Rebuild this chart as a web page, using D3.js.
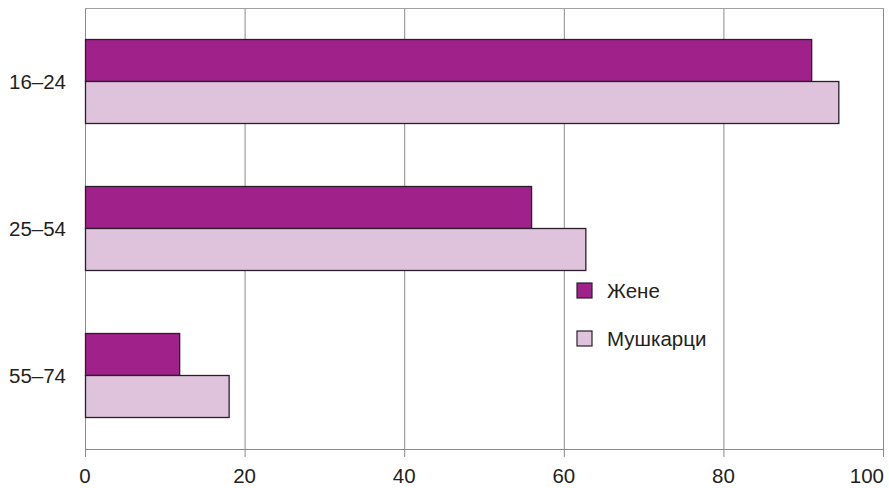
<!DOCTYPE html>
<html><head><meta charset="utf-8">
<script src="https://cdn.jsdelivr.net/npm/d3@7"></script>
<style>body{margin:0;background:#fff}text{font-family:"Liberation Sans",Arial,sans-serif;fill:#231f20}</style>
</head><body><svg id="c" width="889" height="488"></svg>
<script>
const categories = ["16–24", "25–54", "55–74"];
const seriesNames = ["Жене", "Мушкарци"];
const zene = [91.0, 55.9, 11.8];
const muskarci = [94.4, 62.7, 18.0];
const xTicks = [0, 20, 40, 60, 80, 100];
const colors = ["#a0218a", "#dfc3dc"];

const svg = d3.select("#c");
const L = 85, R = 883, T = 8, B = 449;
const x = d3.scaleLinear().domain([0, 100]).range([L, R]);
const y = d3.scaleBand().domain(categories).range([T, B]).padding(0);
const groupH = 84;
const ySub = d3.scaleBand().domain(seriesNames).range([0, groupH]);
const fs = 20.5;

// grid lines
svg.append("g").selectAll("line").data(xTicks).join("line")
  .attr("x1", d => x(d) + 0.5).attr("x2", d => x(d) + 0.5)
  .attr("y1", T).attr("y2", B + 8)
  .attr("stroke", "#8a8a8a").attr("stroke-width", 1);
// top border
svg.append("line").attr("x1", L).attr("x2", R + 1).attr("y1", T + 0.5).attr("y2", T + 0.5)
  .attr("stroke", "#a0a0a0").attr("stroke-width", 1);
// bottom axis
svg.append("line").attr("x1", L).attr("x2", R + 1).attr("y1", B + 0.5).attr("y2", B + 0.5)
  .attr("stroke", "#8a8a8a").attr("stroke-width", 1);

const data = categories.map((c, i) => ({c, vals: [zene[i], muskarci[i]]}));
const g = svg.append("g").selectAll("g").data(data).join("g")
  .attr("transform", d => `translate(0,${y(d.c) + (y.bandwidth() - groupH) / 2})`);
g.selectAll("rect").data(d => d.vals.map((v, j) => ({v, s: seriesNames[j], j})))
  .join("rect")
  .attr("x", x(0) + 0.5).attr("y", d => ySub(d.s))
  .attr("width", d => x(d.v) - x(0)).attr("height", ySub.bandwidth())
  .attr("fill", d => colors[d.j]).attr("stroke", "#2b1e2b").attr("stroke-width", 1.3);

// x tick labels
const last = xTicks[xTicks.length - 1];
svg.append("g").selectAll("text").data(xTicks).join("text")
  .attr("x", d => d === last ? x(d) + 1 : x(d)).attr("y", 483)
  .attr("text-anchor", d => d === last ? "end" : "middle")
  .attr("font-size", fs).text(d => d);
// y labels
svg.append("g").selectAll("text").data(categories).join("text")
  .attr("x", 66).attr("y", d => y(d) + y.bandwidth() / 2).attr("dy", "0.35em")
  .attr("text-anchor", "end").attr("font-size", fs).text(d => d);

// legend
const lg = svg.append("g").selectAll("g").data(seriesNames).join("g")
  .attr("transform", (d, i) => `translate(577,${283 + i * 48})`);
lg.append("rect").attr("width", 15).attr("height", 15)
  .attr("fill", (d, i) => colors[i]).attr("stroke", "#2b1e2b").attr("stroke-width", 1.2);
lg.append("text").attr("x", 30).attr("y", 7.5).attr("dy", "0.35em")
  .attr("font-size", fs).text(d => d);
</script></body></html>
